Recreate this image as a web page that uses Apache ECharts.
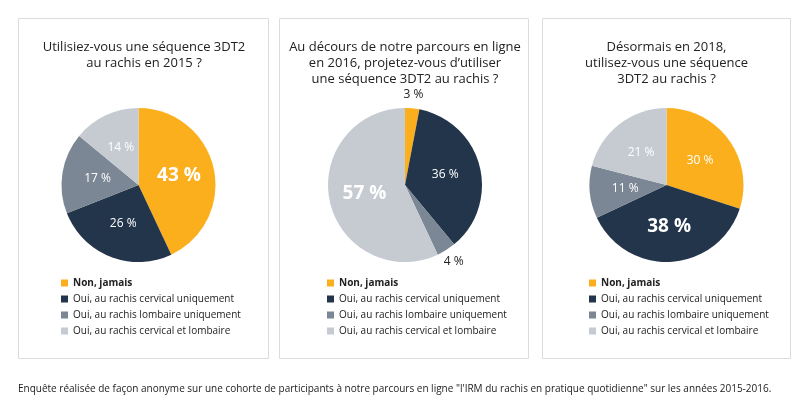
<!DOCTYPE html>
<html>
<head>
<meta charset="utf-8">
<script src="https://cdn.jsdelivr.net/npm/echarts@6/dist/echarts.min.js"></script>
<style>html,body{margin:0;padding:0;background:#fff;}#c{width:810px;height:420px;}</style>
</head>
<body>
<div id="c"></div>
<script>
const categories = ['Non, jamais', 'Oui, au rachis cervical uniquement', 'Oui, au rachis lombaire uniquement', 'Oui, au rachis cervical et lombaire'];
const values2015 = [43, 26, 17, 14];
const values2016 = [3, 36, 4, 57];
const values2018 = [30, 38, 11, 21];
const titles = [
  'Utilisiez-vous une séquence 3DT2\nau rachis en 2015 ?',
  'Au décours de notre parcours en ligne\nen 2016, projetez-vous d\u2019utiliser\nune séquence 3DT2 au rachis ?',
  'Désormais en 2018,\nutilisez-vous une séquence\n3DT2 au rachis ?'
];
const footnote = 'Enquête réalisée de façon anonyme sur une cohorte de participants à notre parcours en ligne "l\'IRM du rachis en pratique quotidienne" sur les années 2015-2016.';

const colors = ['#FBAF1C', '#22354B', '#7B8794', '#C5CBD1'];
const FONT = "'Open Sans', sans-serif";
const panels = [
  {x: 18, w: 250, cx: 138.5, tx: 144, lx: 61, vals: values2015},
  {x: 279, w: 249, cx: 405, tx: 405, lx: 327, vals: values2016},
  {x: 542, w: 248, cx: 666.5, tx: 666.5, lx: 589, vals: values2018}
];
const CY = 185, R = 77;

const series = [];
const title = [];
const legend = [];
const graphic = [];

panels.forEach((p, pi) => {
  graphic.push({type: 'rect', shape: {x: p.x + 0.5, y: 18.5, width: p.w, height: 340}, style: {fill: '#fff', stroke: '#dcdcdc', lineWidth: 1}, z: -1});
  title.push({text: titles[pi], left: p.tx, top: 39, padding: 0, textAlign: 'center',
    textStyle: {fontFamily: FONT, fontSize: 13, fontWeight: 'normal', color: '#222', lineHeight: 16}});
  const maxV = Math.max(...p.vals);
  series.push({
    type: 'pie', center: [p.cx, CY], radius: R, startAngle: 90, clockwise: true,
    animation: false, silent: true,
    data: p.vals.map((v, i) => {
      const big = v === maxV;
      const outside = v < 5;
      return {
        name: categories[i], value: v,
        itemStyle: {color: colors[i]},
        label: {
          show: !outside, position: 'inside', formatter: '{c} %',
          color: '#fff', fontFamily: FONT,
          fontSize: big ? 19 : 12, fontWeight: big ? 'bold' : 'normal'
        }
      };
    }),
    labelLine: {show: false}
  });
  series.push({
    type: 'pie', center: [p.cx, CY], radius: [R, R + 22], startAngle: 90, clockwise: true,
    animation: false, silent: true, legendHoverLink: false,
    data: p.vals.map((v, i) => ({
      name: categories[i], value: v,
      itemStyle: {color: 'rgba(0,0,0,0)'},
      label: {show: v < 5, position: 'inside', formatter: '{c} %', color: '#222', fontFamily: FONT, fontSize: 12}
    })),
    labelLine: {show: false}
  });
  legend.push({
    orient: 'vertical', left: p.lx, top: 277, padding: 0, itemWidth: 7, itemHeight: 7, itemGap: 4,
    selectedMode: false, icon: 'rect',
    textStyle: {fontFamily: FONT, fontSize: 10, color: '#222', lineHeight: 12},
    data: categories.map((c, i) => ({
      name: c, itemStyle: {color: colors[i]},
      textStyle: i === 0 ? {fontWeight: 'bold'} : {}
    }))
  });
});

title.push({text: footnote, left: 18, top: 384, padding: 0,
  textStyle: {fontFamily: FONT, fontSize: 10, fontWeight: 'normal', color: '#222'}});

const chart = echarts.init(document.getElementById('c'));
chart.setOption({backgroundColor: '#fff', animation: false, title, legend, series, graphic});
</script>
</body>
</html>
